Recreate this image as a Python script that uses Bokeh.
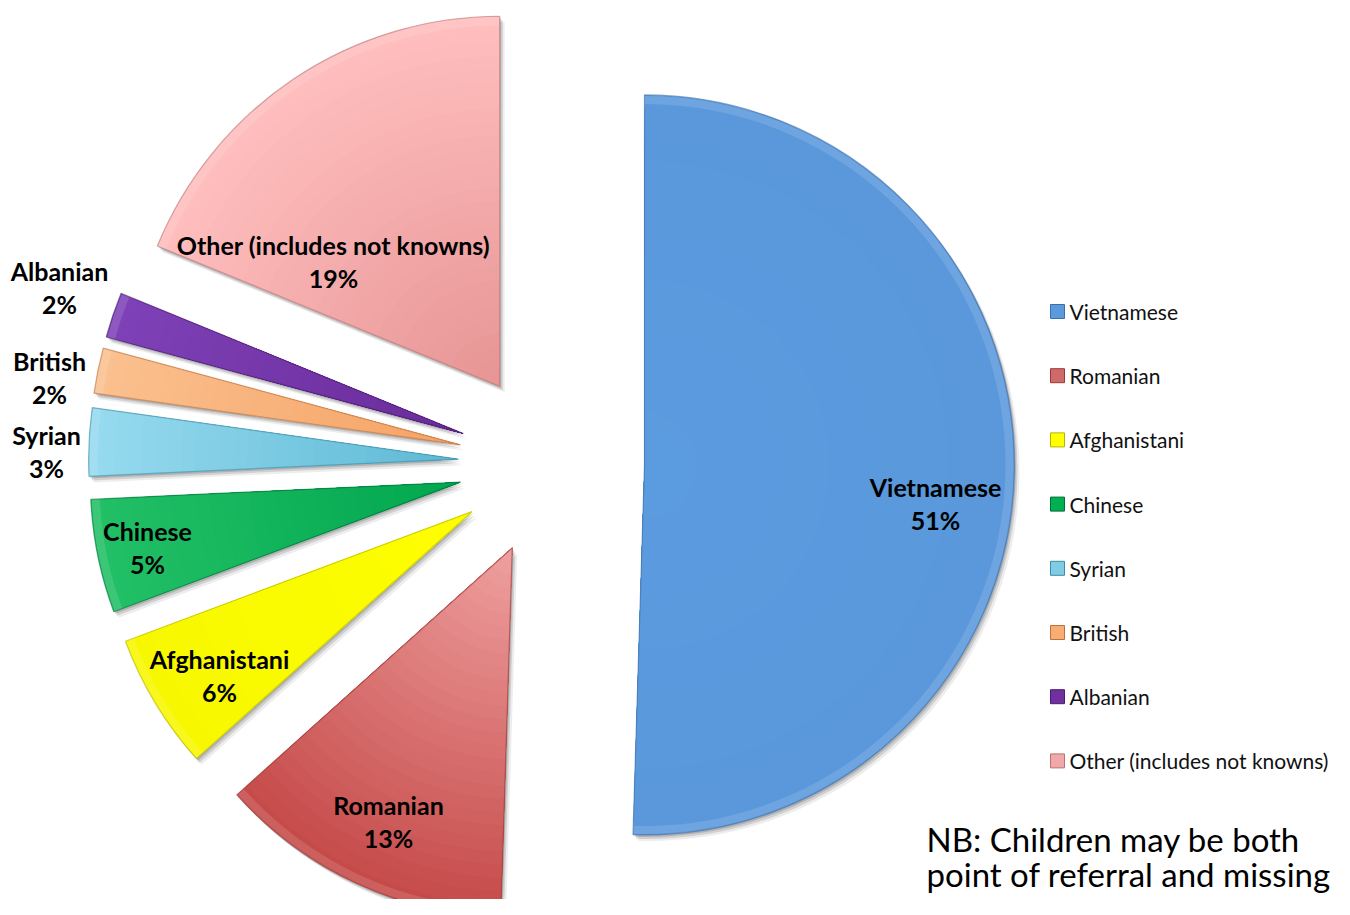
import numpy as np
from bokeh.plotting import figure
from bokeh.models import Range1d
from bokeh.core.properties import value
from bokeh.embed import file_html
from bokeh.resources import INLINE

# ---------------- data ----------------
categories = ["Vietnamese", "Romanian", "Afghanistani", "Chinese",
              "Syrian", "British", "Albanian", "Other (includes not knowns)"]
percent = [51, 13, 6, 5, 3, 2, 2, 19]
pct_labels = ["51%", "13%", "6%", "5%", "3%", "2%", "2%", "19%"]
note_lines = ["NB: Children may be both",
              "point of referral and missing"]

# colours: (near the tip, near the arc)
inner_colors = ["#5B9BDF", "#F0A2A2", "#FFFF00", "#00A64E", "#5DB8D4", "#F4A264", "#6A2B99", "#E69393"]
outer_colors = ["#5A98DB", "#C54B49", "#F7F700", "#22C066", "#96DAEF", "#FBC08F", "#7E41B7", "#FFBEBE"]
edge_colors = ["#3F6FA8", "#9A3A38", "#B5B500", "#00703A", "#3E8CA5", "#B9733F", "#4A1D70", "#B87474"]
legend_colors = ["#5B9BDD", "#D06A68", "#FFFF00", "#00B050", "#7FCCE4", "#F8AE72", "#7030A0", "#F2A8A8"]

# ---------------- layout ----------------
W, H = 1334, 899
def X(rx):  # reference pixel -> data
    return rx
def Y(ry):
    return 899 - ry

CX, CY = X(551), Y(463)
R = 370
EXPLODE = 93

# label anchor positions (reference pixels)
label_pos = [(935, 486), (388, 804), (219, 658), (147, 530),
             (46, 434), (49, 360), (59, 270), (333, 244)]
LINE_GAP = 33

p = figure(width=W, height=H, x_range=Range1d(0, W), y_range=Range1d(0, H),
           output_backend="svg", toolbar_location=None, min_border=0,
           x_axis_type=None, y_axis_type=None)
p.grid.visible = False
p.outline_line_color = None
p.background_fill_color = "white"
p.border_fill_color = "white"

def mix(c1, c2, t):
    a = np.array([int(c1[i:i + 2], 16) for i in (1, 3, 5)], float)
    b = np.array([int(c2[i:i + 2], 16) for i in (1, 3, 5)], float)
    c = a + (b - a) * t
    return "#%02x%02x%02x" % tuple(int(round(v)) for v in c)

fracs = np.array(percent, float) / sum(percent)
start = np.pi / 2
cum = 0.0
geo = []
for i, f in enumerate(fracs):
    a0 = start - cum * 2 * np.pi
    a1 = a0 - f * 2 * np.pi
    mid = (a0 + a1) / 2
    x0 = CX + EXPLODE * np.cos(mid)
    y0 = CY + EXPLODE * np.sin(mid)
    geo.append((x0, y0, a1, a0))
    cum += f

# shadows
for (x0, y0, a1, a0) in geo:
    for dx, dy, al in [(5, -6, 0.07), (3, -4, 0.12), (1.5, -2, 0.15)]:
        p.wedge(x=x0 + dx, y=y0 + dy, radius=R, start_angle=a1, end_angle=a0,
                direction="anticlock", fill_color="#000000", fill_alpha=al, line_color=None)

# slices with radial gradient bands
N = 28
for i, (x0, y0, a1, a0) in enumerate(geo):
    for k in range(N, 0, -1):
        t = k / N
        p.wedge(x=x0, y=y0, radius=R * t, start_angle=a1, end_angle=a0,
                direction="anticlock", fill_color=mix(inner_colors[i], outer_colors[i], t),
                line_color=None)
    # bevel highlight near the arc
    p.annular_wedge(x=x0, y=y0, inner_radius=R - 9, outer_radius=R - 1,
                    start_angle=a1, end_angle=a0, direction="anticlock",
                    fill_color="white", fill_alpha=0.12, line_color=None)
    p.wedge(x=x0, y=y0, radius=R, start_angle=a1, end_angle=a0,
            direction="anticlock", fill_color=None, line_color=edge_colors[i],
            line_alpha=0.6, line_width=1.2)

# slice labels
for i, (lx, ly) in enumerate(label_pos):
    p.text(x=[X(lx)], y=[Y(ly)], text=[categories[i]], text_font=value("Lato"),
           text_font_style="bold", text_font_size="25px", text_color="#000000",
           text_align="center", text_baseline="middle")
    p.text(x=[X(lx)], y=[Y(ly + LINE_GAP)], text=[pct_labels[i]], text_font=value("Lato"),
           text_font_style="bold", text_font_size="25px", text_color="#000000",
           text_align="center", text_baseline="middle")

# legend
LEG_X, LEG_TX, LEG_Y0, LEG_DY = 1057, 1069, 311, 64.2
for i, name in enumerate(categories):
    ly = LEG_Y0 + i * LEG_DY
    p.scatter(x=[X(LEG_X)], y=[Y(ly)], marker="square", size=14,
              fill_color=legend_colors[i], line_color=edge_colors[i], line_width=1)
    p.text(x=[X(LEG_TX)], y=[Y(ly)], text=[name], text_font=value("Lato"),
           text_font_size="21px", text_color="#111111",
           text_align="left", text_baseline="middle")

# note
for j, line in enumerate(note_lines):
    p.text(x=[X(926)], y=[Y(838 + 35 * j)], text=[line], text_font=value("Lato"),
           text_font_size="33px", text_color="#000000",
           text_align="left", text_baseline="middle")

open("out.html", "w").write(file_html(p, INLINE))
